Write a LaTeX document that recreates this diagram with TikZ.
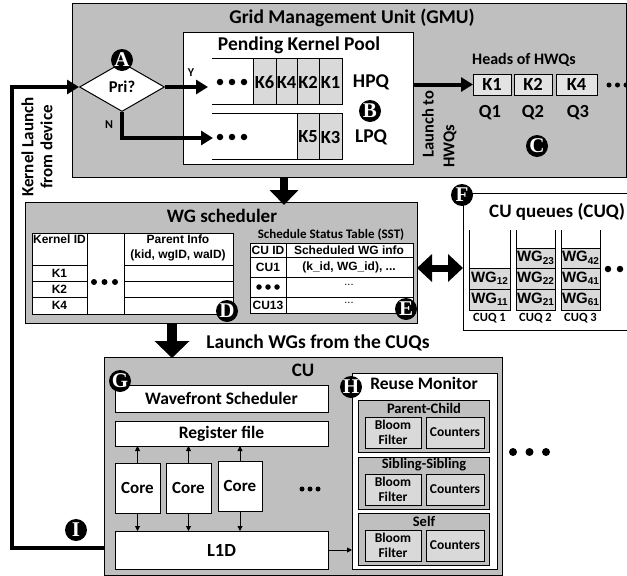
\documentclass[tikz,border=0pt]{standalone}
\usepackage{fontspec}
\setmainfont{Carlito}
\newfontfamily\arialf{Liberation Sans}
\newfontfamily\timesf{Liberation Serif}
\usetikzlibrary{arrows.meta,shapes.geometric,calc}
\definecolor{boxgray}{HTML}{BFBFBF}
\definecolor{cellgray}{HTML}{D9D9D9}
\definecolor{headgray}{HTML}{E3E3E3}
\newcommand\fs[1]{\fontsize{#1}{#1}\selectfont}
\newcommand\wgt[1]{{\arialf\bfseries\fs{15}WG\raisebox{-2.5pt}{\fs{10}#1}}}
\tikzset{
  blk/.style={draw=black, line width=1pt, inner sep=0pt, outer sep=0pt, anchor=north west},
  txt/.style={inner sep=0pt, font=\bfseries\fs{#1}},
  atxt/.style={inner sep=0pt, font=\arialf\bfseries\fs{#1}},
  badge/.style={circle, fill=black, text=white, inner sep=0pt, minimum size=22pt, font=\timesf\bfseries\fs{21}},
  fat/.style={line width=4pt, -{Triangle[length=12pt,width=14pt]}},
  thinarrow/.style={line width=0.9pt, -{Triangle[length=5pt,width=5pt]}},
  dot/.style={circle, fill=black, inner sep=0pt, minimum size=#1}
}
\newcommand\dotrow[4]{%
  \foreach \k in {0,1,2}{\node[dot=#4] at ({#1+\k*#3},#2) {};}}
\begin{document}
\begin{tikzpicture}[x=1pt,y=-1pt]
\useasboundingbox (0,0) rectangle (627,576);
\clip (0,0) rectangle (627,576);

%% ---------------- GMU ----------------
\node[blk, fill=boxgray, minimum width=554pt, minimum height=174pt] (gmu) at (72,3) {};
\node[txt=19.5] (gmut) at (352,18) {Grid Management Unit (GMU)};

\node[blk, fill=white, minimum width=230pt, minimum height=132pt] (pkp) at (183,32) {};
\node[txt=19.5] (pkpt) at (299,45) {Pending Kernel Pool};

% HPQ
\draw[line width=1pt] (212,58) -- (342,58) (212,104) -- (342,104);
\foreach \xa/\xb/\lab in {253/276/K6, 276/297/K4, 297/319/K2, 319/342/K1}{
  \draw[line width=1pt, fill=cellgray] (\xa,58) rectangle (\xb,104);
  \node[txt=18.5] at ({(\xa+\xb)/2},82) {\lab};
}
\dotrow{220}{82}{12}{6.5pt}
% LPQ
\draw[line width=1pt] (212,113) -- (342,113) (212,159) -- (342,159);
\foreach \xa/\xb/\lab in {297/319/K5, 319/342/K3}{
  \draw[line width=1pt, fill=cellgray] (\xa,113) rectangle (\xb,159);
  \node[txt=18.5] at ({(\xa+\xb)/2},137) {\lab};
}
\dotrow{220}{137}{12}{6.5pt}
\coordinate (hpqin) at (208,87);
\coordinate (lpqin) at (213,138);
\node[txt=19.5] (hpq) at (371,82) {HPQ};
\node[txt=19.5] (lpq) at (371,137) {LPQ};
\node[badge] (bB) at (370,111) {B};

% Pri diamond
\node[diamond, draw, fill=white, line width=1pt, minimum width=85pt, minimum height=49pt, inner sep=0pt, font=\bfseries\fs{16.5}] (pri) at (122,87) {Pri?};
\node[badge] (bA) at (122,60) {A};
\draw[fat] (pri.east) -- (hpqin);
\draw[fat, line join=miter] (pri.south) |- (lpqin);
\node[txt=12] (ylab) at (191,73) {Y};
\node[txt=12] (nlab) at (109,125) {N};

% Heads of HWQs
\node[txt=16] (heads) at (524,60) {Heads of HWQs};
\node[blk, fill=headgray, minimum width=38pt, minimum height=21pt, txt=18.5] (hk1) at (473,74) {K1};
\node[blk, fill=headgray, minimum width=38pt, minimum height=21pt, txt=18.5] (hk2) at (514,74) {K2};
\node[blk, fill=headgray, minimum width=41pt, minimum height=21pt, txt=18.5] (hk4) at (556,74) {K4};
\dotrow{609}{85}{8.5}{5pt}
\node[txt=18.5] (q1) at (490,113) {Q1};
\node[txt=18.5] (q2) at (533,113) {Q2};
\node[txt=18.5] (q3) at (578,113) {Q3};
\node[badge] (bC) at (537,146) {C};
\draw[fat] (pkp.east |- hk1) -- (hk1.west);
\node[txt=16.5, rotate=90] (lt1) at (428,124) {Launch to};
\node[txt=16.5, rotate=90] (lt2) at (450,146) {HWQs};

% Kernel launch from device
\node[txt=17, rotate=90, align=center] (klab) at (37,147) {Kernel Launch\\[2pt]from device};

%% ---------------- WG scheduler ----------------
\node[blk, fill=boxgray, minimum width=392pt, minimum height=121pt] (wg) at (25,202) {};
\node[txt=19] (wgt) at (222,216) {WG scheduler};
\coordinate (g2wa) at (284,177);
\coordinate (g2wb) at (284,205);
\draw[line width=8pt, -{Triangle[length=15pt,width=28pt]}] (g2wa) -- (g2wb);

% Kernel table
\draw[line width=1pt, fill=white] (32,233) rectangle (233,314);
\draw[line width=1pt] (87,233) -- (87,314) (124,233) -- (124,314);
\foreach \yy in {265,281,297}{\draw[line width=1pt] (32,\yy) -- (87,\yy) (124,\yy) -- (233,\yy);}
\node[atxt=12, anchor=north] (kid) at (59.5,235) {Kernel ID};
\node[atxt=12, align=center] (pinfo) at (178,248) {Parent Info\\[3pt](kid, wgID, waID)};
\node[atxt=12] at (59.5,273) {K1};
\node[atxt=12] at (59.5,289) {K2};
\node[atxt=12] at (59.5,305) {K4};
\dotrow{94}{282}{10.5}{6pt}
\node[badge] (bD) at (227,311) {D};

% SST
\node[txt=13] (sstt) at (331,235) {Schedule Status Table (SST)};
\draw[line width=1pt, fill=white] (250,243) rectangle (413,313);
\draw[line width=1pt] (286,243) -- (286,313);
\foreach \yy in {257,277,297}{\draw[line width=1pt] (250,\yy) -- (413,\yy);}
\node[atxt=12] at (268,250) {CU ID};
\node[atxt=12] at (349,250) {Scheduled WG info};
\node[atxt=12] at (268,267) {CU1};
\node[atxt=12] at (349,267) {(k\_id, WG\_id), ...};
\dotrow{259}{287}{9}{5.5pt}
\node[inner sep=0pt, font=\arialf\fs{11}] at (349,285) {...};
\node[atxt=12] at (268,305) {CU13};
\node[inner sep=0pt, font=\arialf\fs{11}] at (349,303) {...};
\node[badge] (bE) at (406,309) {E};

%% ---------------- CU queues ----------------
\node[blk, fill=white, minimum width=200pt, minimum height=137pt] (cuq) at (463,193) {};
\node[badge] (bF) at (462,195) {F};
\node[txt=19, anchor=west] (cuqt) at (489,212) {CU queues (CUQ)};
\draw[line width=7pt, {Triangle[length=15pt,width=27pt]}-{Triangle[length=15pt,width=27pt]}] (wg.east |- 0,268) -- (cuq.west |- 0,268);

\draw[line width=1pt] (469,230) -- (469,310) -- (510,310) -- (510,230);
\draw[line width=1pt] (516,230) -- (516,310) -- (555,310) -- (555,230);
\draw[line width=1pt] (561,230) -- (561,310) -- (600,310) -- (600,230);
\foreach \xa/\xb/\ya/\yb/\lab in {469/510/268/289/12, 469/510/289/310/11,
   516/555/248/268/23, 516/555/268/289/22, 516/555/289/310/21,
   561/600/248/268/42, 561/600/268/289/41, 561/600/289/310/61}{
  \draw[line width=1pt, fill=cellgray] (\xa,\ya) rectangle (\xb,\yb);
  \node[inner sep=0pt] at ({(\xa+\xb)/2},{(\ya+\yb)/2}) {\wgt{\lab}};
}
\node[txt=12.5] at (489.5,318) {CUQ 1};
\node[txt=12.5] at (535.5,318) {CUQ 2};
\node[txt=12.5] at (580.5,318) {CUQ 3};
\dotrow{608}{269}{12}{6.5pt}

%% ---------------- Launch WGs ----------------
\node[txt=19.5] (lwg) at (318,343) {Launch WGs from the CUQs};
\coordinate (w2ca) at (172,323);
\coordinate (w2cb) at (172,358);
\draw[line width=10pt, -{Triangle[length=17pt,width=34pt]}] (w2ca) -- (w2cb);

%% ---------------- CU ----------------
\node[blk, fill=boxgray, minimum width=398pt, minimum height=218pt] (cu) at (104,357) {};
\node[txt=19] (cut) at (303,370) {CU};
\node[blk, fill=white, minimum width=213pt, minimum height=27pt, txt=17.5] (wfs) at (115,385) {Wavefront Scheduler};
\node[blk, fill=white, minimum width=213pt, minimum height=25pt, txt=17.5] (reg) at (115,421) {Register file};
\node[blk, fill=white, minimum width=45pt, minimum height=50pt, txt=17] (c1) at (115,463) {Core};
\node[blk, fill=white, minimum width=45pt, minimum height=50pt, txt=17] (c2) at (166,463) {Core};
\node[blk, fill=white, minimum width=44pt, minimum height=50pt, txt=17] (c3) at (218,461) {Core};
\dotrow{302}{489}{8}{5pt}
\node[blk, fill=white, minimum width=213pt, minimum height=38pt, txt=18.5] (l1d) at (115,531) {L1D};
\foreach \c in {c1,c2,c3}{
  \draw[thinarrow] (\c.north) -- (\c.north |- reg.south);
  \draw[thinarrow] (\c.south) -- (\c.south |- l1d.north);
}
\node[badge] (bG) at (120,381) {G};

% Reuse monitor
\node[blk, fill=white, minimum width=145pt, minimum height=196pt] (rm) at (352,373) {};
\node[txt=17.5] (rmt) at (424,383) {Reuse Monitor};
\node[badge] (bH) at (351,387) {H};
\draw[thinarrow] (l1d.east) -- (rm.west |- l1d.east);
\foreach \top/\lab/\nm in {400/Parent-Child/pc, 457/Sibling-Sibling/ss, 513/Self/sf}{
  \node[blk, fill=boxgray, minimum width=131pt, minimum height=52pt] (\nm) at (358,\top) {};
  \node[txt=14.5] at (424,{\top+8}) {\lab};
  \node[blk, fill=cellgray, minimum width=56pt, minimum height=31pt, txt=13.5, align=center] (\nm b) at (365,{\top+17}) {Bloom\\[1pt]Filter};
  \node[blk, fill=cellgray, minimum width=58pt, minimum height=31pt, txt=13.5] (\nm c) at (426,{\top+17}) {Counters};
}
\dotrow{513}{452}{16.5}{8pt}

% Kernel launch from device line
\coordinate (kl1) at (12,548);
\coordinate (kl2) at (12,87);
\draw[fat, line join=miter] (cu.west |- 0,548) -- (kl1) -- (kl2) -- (pri.west);
\node[badge] (bI) at (76,530) {I};
\end{tikzpicture}
\end{document}
